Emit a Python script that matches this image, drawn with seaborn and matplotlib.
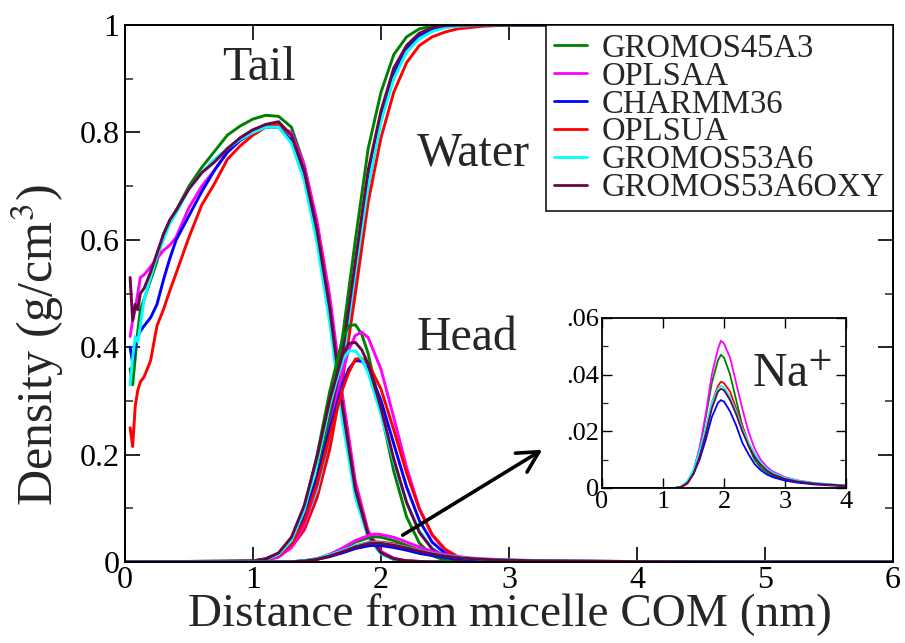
import matplotlib
matplotlib.use("Agg")
import matplotlib.pyplot as plt
import pandas as pd
import seaborn as sns
from matplotlib.lines import Line2D
from matplotlib.ticker import MultipleLocator

# Force fields and their line colours
force_fields = ["GROMOS45A3", "OPLSAA", "CHARMM36", "OPLSUA", "GROMOS53A6", "GROMOS53A6OXY"]
colors = ["#008000", "#ff00ff", "#0000ff", "#ff0000", "#00ffff", "#670748"]

# ---- Tail (hydrocarbon core) density, g/cm^3 ----
tail_r = [0.04, 0.06, 0.08, 0.10, 0.12, 0.15, 0.20, 0.25, 0.30, 0.35, 0.40, 0.50, 0.60, 0.70, 0.80, 0.90,
          1.00, 1.10, 1.20, 1.30, 1.40, 1.50, 1.60, 1.70, 1.80, 1.90, 2.00, 2.10, 2.20, 2.40, 3.00, 6.00]
tail_gromos45a3 = [0.36, 0.33, 0.38, 0.43, 0.47, 0.49, 0.525, 0.56, 0.61, 0.635, 0.655, 0.70, 0.735, 0.765, 0.795, 0.812,
                   0.825, 0.832, 0.83, 0.81, 0.74, 0.625, 0.475, 0.285, 0.13, 0.048, 0.016, 0.005, 0.001, 0, 0, 0]
tail_oplsaa = [0.42, 0.45, 0.47, 0.50, 0.53, 0.535, 0.55, 0.565, 0.58, 0.59, 0.605, 0.66, 0.70, 0.73, 0.765, 0.79,
               0.805, 0.812, 0.812, 0.80, 0.74, 0.635, 0.495, 0.31, 0.15, 0.058, 0.02, 0.007, 0.002, 0, 0, 0]
tail_charmm36 = [0.40, 0.37, 0.40, 0.42, 0.43, 0.44, 0.455, 0.48, 0.525, 0.565, 0.60, 0.645, 0.69, 0.73, 0.763, 0.785,
                 0.80, 0.81, 0.81, 0.785, 0.72, 0.61, 0.465, 0.28, 0.13, 0.048, 0.016, 0.005, 0.0015, 0, 0, 0]
tail_oplsua = [0.25, 0.215, 0.29, 0.32, 0.335, 0.345, 0.375, 0.44, 0.47, 0.505, 0.538, 0.605, 0.665, 0.705, 0.75, 0.775,
               0.795, 0.81, 0.815, 0.795, 0.73, 0.62, 0.475, 0.29, 0.138, 0.052, 0.018, 0.006, 0.002, 0, 0, 0]
tail_gromos53a6 = [0.33, 0.38, 0.42, 0.41, 0.44, 0.49, 0.53, 0.57, 0.60, 0.63, 0.65, 0.695, 0.725, 0.75, 0.77, 0.787,
                   0.80, 0.81, 0.81, 0.78, 0.71, 0.595, 0.445, 0.26, 0.12, 0.045, 0.015, 0.005, 0.001, 0, 0, 0]
tail_gromos53a6oxy = [0.53, 0.45, 0.48, 0.47, 0.50, 0.51, 0.54, 0.575, 0.61, 0.637, 0.655, 0.695, 0.725, 0.745, 0.77, 0.79,
                      0.805, 0.815, 0.82, 0.795, 0.728, 0.618, 0.472, 0.287, 0.135, 0.05, 0.017, 0.006, 0.002, 0, 0, 0]

# ---- Water density ----
water_r = [0, 1.0, 1.1, 1.2, 1.3, 1.4, 1.5, 1.6, 1.7, 1.8, 1.9, 2.0, 2.1, 2.2, 2.3, 2.4, 2.5, 2.6, 2.8, 3.0, 6.0]
water_gromos45a3 = [0, .002, .006, .016, .04, .085, .16, .27, .42, .60, .77, .875, .945, .978, .993, .998, 1.0, 1.0, 1.0, 1.0, 1.0]
water_oplsaa = [0, .001, .004, .011, .027, .06, .12, .215, .35, .52, .70, .825, .905, .955, .98, .992, .997, 1.0, 1.0, 1.0, 1.0]
water_charmm36 = [0, .001, .005, .013, .032, .07, .135, .235, .37, .54, .71, .83, .91, .955, .98, .993, .998, 1.0, 1.0, 1.0, 1.0]
water_oplsua = [0, .001, .004, .011, .028, .06, .12, .21, .34, .50, .67, .79, .875, .93, .962, .978, .987, .993, .998, 1.0, 1.0]
water_gromos53a6 = [0, .001, .005, .013, .032, .07, .135, .235, .37, .54, .70, .82, .90, .95, .975, .988, .995, .998, 1.0, 1.0, 1.0]
water_gromos53a6oxy = [0, .002, .006, .016, .038, .08, .15, .25, .39, .56, .73, .84, .92, .962, .985, .995, .999, 1.0, 1.0, 1.0, 1.0]

# ---- Head group density ----
head_r = [0, 1.0, 1.1, 1.2, 1.3, 1.4, 1.5, 1.6, 1.7, 1.75, 1.8, 1.85, 1.9, 2.0, 2.1, 2.2, 2.3, 2.4, 2.5, 2.6, 2.7, 2.8, 3.0, 6.0]
head_gromos45a3 = [0, .001, .004, .014, .041, .100, .198, .318, .416, .440, .442, .424, .388, .281, .169, .084, .035, .012, .003, .001, 0, 0, 0, 0]
head_oplsaa = [0, .0006, .0025, .009, .027, .069, .143, .249, .355, .396, .422, .428, .418, .359, .269, .176, .100, .050, .0215, .008, .003, .001, 0, 0]
head_charmm36 = [0, .001, .004, .013, .036, .081, .155, .247, .332, .360, .375, .374, .360, .301, .220, .140, .077, .037, .016, .006, .002, .0006, 0, 0]
head_oplsua = [0, .001, .004, .0125, .033, .076, .145, .235, .322, .354, .378, .379, .370, .322, .246, .166, .098, .051, .024, .010, .004, .0015, .0003, 0]
head_gromos53a6 = [0, .001, .004, .014, .040, .096, .186, .293, .376, .393, .393, .378, .352, .275, .187, .111, .058, .026, .010, .004, .0013, 0, 0, 0]
head_gromos53a6oxy = [0, .0013, .005, .017, .046, .105, .195, .302, .386, .407, .409, .395, .369, .287, .192, .111, .055, .024, .009, .003, .001, 0, 0, 0]

# ---- Na+ counter-ion density ----
na_r = [0, 1.2, 1.3, 1.4, 1.5, 1.6, 1.7, 1.8, 1.9, 1.95, 2.0, 2.1, 2.2, 2.3, 2.4, 2.5, 2.6, 2.7, 2.8, 3.0, 3.2, 3.5, 4.0, 5.0, 6.0]
na_gromos45a3 = [0, 0, .0005, .002, .006, .014, .025, .037, .045, .047, .046, .040, .031, .022, .015, .010, .0072, .0055, .0043, .0030, .0022, .0014, .0007, .0002, 0]
na_oplsaa = [0, 0, .0005, .002, .006, .014, .026, .040, .049, .052, .051, .046, .037, .028, .020, .014, .010, .0075, .0058, .0038, .0027, .0017, .0008, .0002, 0]
na_charmm36 = [0, 0, .0004, .0018, .005, .010, .017, .025, .030, .031, .0305, .027, .022, .016, .012, .0085, .0063, .0048, .0038, .0026, .0019, .0012, .0006, .0002, 0]
na_oplsua = [0, 0, .0003, .0015, .005, .011, .020, .030, .036, .0375, .037, .034, .028, .022, .016, .012, .0088, .0065, .005, .0033, .0024, .0015, .0008, .0002, 0]
na_gromos53a6 = [0, 0, .0006, .0025, .0065, .013, .021, .030, .035, .036, .0355, .032, .027, .021, .016, .012, .009, .0068, .0053, .0036, .0026, .0017, .0009, .0003, 0]
na_gromos53a6oxy = [0, 0, .0004, .0018, .005, .011, .019, .028, .034, .035, .0345, .031, .026, .020, .015, .011, .0082, .0062, .0048, .0032, .0023, .0015, .0008, .0002, 0]

x_ticks = [0, 1, 2, 3, 4, 5, 6]
x_ticklabels = ["0", "1", "2", "3", "4", "5", "6"]
y_ticks = [0, 0.2, 0.4, 0.6, 0.8, 1.0]
y_ticklabels = ["0", "0.2", "0.4", "0.6", "0.8", "1"]
inset_x_ticks = [0, 1, 2, 3, 4]
inset_x_ticklabels = ["0", "1", "2", "3", "4"]
inset_y_ticks = [0, 0.02, 0.04, 0.06]
inset_y_ticklabels = ["0", ".02", ".04", ".06"]


def long_frame(r, series):
    parts = [pd.DataFrame({"r": r, "rho": vals, "ff": ff}) for ff, vals in zip(force_fields, series)]
    return pd.concat(parts, ignore_index=True)


tail_df = long_frame(tail_r, [tail_gromos45a3, tail_oplsaa, tail_charmm36, tail_oplsua, tail_gromos53a6, tail_gromos53a6oxy])
water_df = long_frame(water_r, [water_gromos45a3, water_oplsaa, water_charmm36, water_oplsua, water_gromos53a6, water_gromos53a6oxy])
head_df = long_frame(head_r, [head_gromos45a3, head_oplsaa, head_charmm36, head_oplsua, head_gromos53a6, head_gromos53a6oxy])
na_df = long_frame(na_r, [na_gromos45a3, na_oplsaa, na_charmm36, na_oplsua, na_gromos53a6, na_gromos53a6oxy])

sns.set_theme(style="ticks")
plt.rcParams["font.family"] = ["Liberation Serif", "DejaVu Serif"]
plt.rcParams["mathtext.fontset"] = "stix"
palette = dict(zip(force_fields, colors))

fig = plt.figure(figsize=(9.05, 6.43), dpi=100)
ax = fig.add_axes([0.1381, 0.126, 0.8486, 0.835])

for frame in (tail_df, water_df, head_df, na_df):
    sns.lineplot(data=frame, x="r", y="rho", hue="ff", hue_order=force_fields, palette=palette,
                 estimator=None, sort=True, linewidth=2.1, legend=False, ax=ax)

ax.set_xlim(0, 6)
ax.set_ylim(0, 1)
ax.set_xticks(x_ticks)
ax.set_xticklabels(x_ticklabels)
ax.set_yticks(y_ticks)
ax.set_yticklabels(y_ticklabels)
ax.yaxis.set_minor_locator(MultipleLocator(0.1))
ax.tick_params(which="major", direction="in", top=True, right=True, length=11, width=1.2,
               labelsize=23, colors="black")
ax.tick_params(axis="x", pad=3)
ax.tick_params(axis="y", pad=4)
ax.tick_params(which="minor", direction="in", left=True, right=True, length=6, width=1.1)
for s in ax.spines.values():
    s.set_linewidth(1.4)
    s.set_color("black")

ax.set_xlabel("Distance from micelle COM (nm)", fontsize=34, va="center")
ax.xaxis.set_label_coords(0.501, -0.099)
ax.set_ylabel("Density (g/cm$^{3}$)", fontsize=36, va="center")
ax.yaxis.set_label_coords(-0.113, 0.404)

ax.text(0.758, 0.898, "Tail", fontsize=34.5, ha="left", va="baseline")
ax.text(2.279, 0.739, "Water", fontsize=34.5, ha="left", va="baseline")
ax.text(2.279, 0.395, "Head", fontsize=34.5, ha="left", va="baseline")

ax.annotate("", xy=(3.26, 0.209), xytext=(2.17, 0.050),
            arrowprops=dict(arrowstyle="->,head_length=0.75,head_width=0.4", lw=2.6,
                            color="black", shrinkA=0, shrinkB=0, mutation_scale=20))

handles = [Line2D([0], [0], color=c, lw=2.0) for c in colors]
leg = ax.legend(handles, force_fields, loc="upper right", bbox_to_anchor=(1.0, 1.0), borderaxespad=0,
                fontsize=23.5, handlelength=1.0, handletextpad=0.45, borderpad=0.25, labelspacing=-0.08,
                frameon=True, fancybox=False, framealpha=1.0)
leg.get_frame().set_edgecolor("black")
leg.get_frame().set_linewidth(1.1)

# Inset: Na+ profile
axi = fig.add_axes([0.6652, 0.2411, 0.2696, 0.2644])
sns.lineplot(data=na_df, x="r", y="rho", hue="ff", hue_order=force_fields, palette=palette,
             estimator=None, sort=True, linewidth=1.3, legend=False, ax=axi)
axi.set_xlim(0, 4)
axi.set_ylim(0, 0.06)
axi.set_xticks(inset_x_ticks)
axi.set_xticklabels(inset_x_ticklabels)
axi.set_yticks(inset_y_ticks)
axi.set_yticklabels(inset_y_ticklabels)
axi.yaxis.set_minor_locator(MultipleLocator(0.01))
axi.tick_params(which="major", direction="in", top=True, right=True, length=7, width=1.0,
                labelsize=19, colors="black", pad=2)
axi.tick_params(which="minor", direction="in", left=True, right=True, length=4, width=0.9)
axi.set_xlabel("")
axi.set_ylabel("")
for s in axi.spines.values():
    s.set_linewidth(1.3)
    s.set_color("black")
axi.text(2.46, 0.0358, "Na$^{+}$", fontsize=34.5, ha="left", va="baseline")

fig.savefig("out.png", dpi=100)
